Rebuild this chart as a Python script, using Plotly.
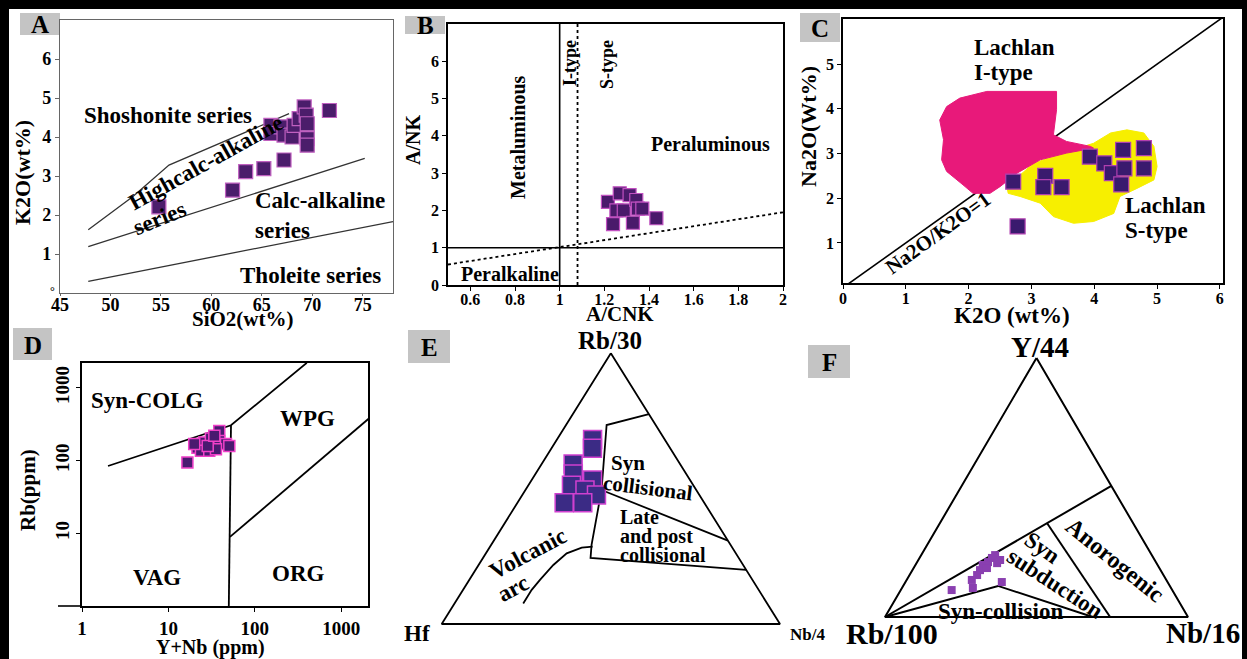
import plotly.graph_objects as go

W, H = 1247, 659
SERIF = "Liberation Serif"

# ---------------- DATA ----------------
# Panel A: SiO2 vs K2O
a_sio2 = [54.8, 62.1, 63.4, 65.2, 67.2, 65.9, 65.9, 66.9, 67.2, 68.0, 68.2, 68.7, 69.2, 69.4, 69.5, 69.5, 69.5, 71.7]
a_k2o = [2.21, 2.64, 3.11, 3.19, 3.41, 4.30, 4.09, 4.26, 4.05, 4.00, 4.30, 4.47, 4.77, 4.56, 4.34, 3.96, 3.79, 4.68]
a_sho_x = [47.8, 52.2, 55.8, 67.7]
a_sho_y = [1.62, 2.47, 3.28, 4.60]
a_hk_x = [47.8, 75.2]
a_hk_y = [1.19, 3.45]
a_th_x = [47.8, 78.0]
a_th_y = [0.30, 1.83]

# Panel B: A/CNK vs A/NK
b_acnk = [1.216, 1.269, 1.313, 1.254, 1.287, 1.343, 1.35, 1.37, 1.239, 1.328, 1.433]
b_ank = [2.23, 2.46, 2.41, 2.0, 2.0, 2.28, 2.05, 2.05, 1.63, 1.67, 1.79]
b_it_x = [1.08, 1.08]
b_it_y = [0, 7]
b_meta_x = [1.0, 1.0]
b_meta_y = [0, 7]
b_h_x = [0.5, 2.0]
b_h_y = [1.0, 1.0]
b_sl_x = [0.5, 2.0]
b_sl_y = [0.55, 1.95]

# Panel C: K2O vs Na2O
c_k2o = [2.71, 3.22, 3.19, 3.48, 3.93, 4.16, 4.28, 4.46, 4.79, 4.48, 4.79, 4.43, 2.78]
c_na2o = [2.37, 2.50, 2.25, 2.25, 2.93, 2.78, 2.56, 3.08, 3.12, 2.67, 2.67, 2.31, 1.37]
c_i_x = [1.54, 1.65, 1.86, 2.29, 3.40, 3.40, 3.35, 3.56, 3.94, 3.99, 3.56, 3.14, 2.77, 2.50, 2.34, 2.07, 1.91, 1.65, 1.57, 1.60, 1.54]
c_i_y = [3.75, 4.05, 4.24, 4.39, 4.39, 3.98, 3.42, 3.27, 3.16, 3.12, 3.01, 2.86, 2.56, 2.26, 2.11, 2.11, 2.30, 2.60, 2.86, 3.31, 3.75]
c_s_x = [2.61, 3.03, 3.56, 3.99, 4.26, 4.52, 4.79, 4.95, 5.00, 4.95, 4.68, 4.41, 4.31, 3.99, 3.67, 3.35, 3.14, 2.82, 2.63, 2.61]
c_s_y = [2.26, 2.78, 3.04, 3.23, 3.46, 3.53, 3.46, 3.16, 2.71, 2.41, 2.22, 2.04, 1.66, 1.48, 1.44, 1.59, 1.89, 2.04, 2.11, 2.26]
c_ratio_x = [0, 6.05]
c_ratio_y = [0, 6.05]

# Panel D: Y+Nb vs Rb (log-log)
d_ynb = [16.6, 21.7, 26, 31, 38.8, 38.8, 46.4, 50.7, 23.8, 29.7, 35.5, 19.9, 28.5, 34]
d_rb = [94, 150, 177, 200, 255, 186, 168, 158, 136, 136, 143, 168, 158, 218]
d_l1_x = [2, 53, 400]
d_l1_y = [84, 305, 2200]
d_l2_x = [53, 51.6, 50]
d_l2_y = [305, 8.9, 1]
d_l3_x = [51.6, 2150]
d_l3_y = [8.9, 389]

# Panel E: ternary Rb/30 (top) - Hf (left) - Nb/4 (right), percent
e_rb = [68.2, 64.9, 59.1, 55.4, 53.2, 51.3, 49.5, 47.7, 44.8, 44.8]
e_hf = [21.3, 23.0, 31.6, 33.4, 28.8, 36.0, 32.9, 30.4, 41.4, 35.9]
e_nb = [10.5, 12.1, 9.3, 11.2, 18.0, 12.7, 17.6, 21.9, 13.8, 19.3]
e_frame_rb = [100, 0, 0, 100]
e_frame_hf = [0, 100, 0, 0]
e_frame_nb = [0, 0, 100, 0]
e_b1_rb = [77.5, 73.5, 49.5, 29.2, 24.4, 20.0]
e_b1_hf = [0.0, 14.5, 28.0, 41.1, 43.8, 0.0]
e_b1_nb = [22.5, 12.0, 22.5, 29.7, 31.8, 80.0]
e_b2_rb = [49.5, 30.8]
e_b2_hf = [28.0, 0.0]
e_b2_nb = [22.5, 69.2]
e_arc_rb = [28.6, 28.2, 26.1, 21.8, 16.3, 12.6, 7.6]
e_arc_hf = [41.1, 44.5, 50.0, 56.1, 62.8, 67.1, 72.1]
e_arc_nb = [30.3, 27.3, 23.9, 22.1, 20.9, 20.3, 20.3]

# Panel F: ternary Y/44 (top) - Rb/100 (left) - Nb/16 (right), percent
f_y = [10.4, 14.3, 11.2, 18.1, 20.1, 21.2, 22.8, 23.9, 20.8, 22.0, 13.5, 18.9, 16.2]
f_rb = [72.8, 64.2, 65.4, 59.6, 57.7, 55.4, 53.3, 51.7, 52.6, 51.0, 54.7, 56.9, 61.5]
f_nb = [16.8, 21.5, 23.4, 22.3, 22.2, 23.4, 23.9, 24.4, 26.6, 27.0, 31.8, 24.2, 22.3]
f_frame_y = [100, 0, 0, 100]
f_frame_rb = [0, 100, 0, 0]
f_frame_nb = [0, 0, 100, 0]
f_up_y = [0, 50.6]
f_up_rb = [100, 0]
f_up_nb = [0, 49.4]
f_mid_y = [36.3, 0]
f_mid_rb = [28.4, 25.7]
f_mid_nb = [35.3, 74.3]
f_low_y = [0, 12.0, 0]
f_low_rb = [100, 56.7, 31.4]
f_low_nb = [0, 31.3, 68.6]


# ---------------- helpers ----------------
def tern(top, left, right):
    xs, ys = [], []
    for t, l, r in zip(top, left, right):
        s = t + l + r
        xs.append(r / s + t / s / 2)
        ys.append(t / s)
    return xs, ys


def dom(v0, p0, v1, p1, r0, r1, axis):
    s = (p1 - p0) / (v1 - v0)
    a = p0 + (r0 - v0) * s
    b = p0 + (r1 - v0) * s
    if axis == "x":
        return sorted([a / W, b / W])
    return sorted([1 - a / H, 1 - b / H])


def PX(x):
    return x / W


def PY(y):
    return 1 - y / H


fig = go.Figure()


def line(x, y, xa, ya, color="black", width=1.6, dash="solid"):
    fig.add_trace(go.Scatter(x=x, y=y, xaxis=xa, yaxis=ya, mode="lines",
                             line=dict(color=color, width=width, dash=dash),
                             showlegend=False, hoverinfo="skip"))


def pts(x, y, xa, ya, size, fill, outline, ow=1.2):
    fig.add_trace(go.Scatter(x=x, y=y, xaxis=xa, yaxis=ya, mode="markers",
                             marker=dict(symbol="square", size=size, color=fill,
                                         line=dict(color=outline, width=ow)),
                             cliponaxis=False, showlegend=False))


# ---- Panel A
line(a_sho_x, a_sho_y, "x", "y", color="#333", width=1.3)
line(a_hk_x, a_hk_y, "x", "y", color="#333", width=1.3)
line(a_th_x, a_th_y, "x", "y", color="#333", width=1.3)
pts(a_sio2, a_k2o, "x", "y", 14, "#4b1d6b", "#c060c0")

# ---- Panel B
line(b_meta_x, b_meta_y, "x2", "y2", width=1.6)
line(b_it_x, b_it_y, "x2", "y2", width=1.8, dash="dot")
line(b_h_x, b_h_y, "x2", "y2", width=1.6)
line(b_sl_x, b_sl_y, "x2", "y2", width=1.8, dash="dot")
pts(b_acnk, b_ank, "x2", "y2", 13, "#4a1a6b", "#c050c0")

# ---- Panel C
line(c_ratio_x, c_ratio_y, "x3", "y3", width=1.6)
fig.add_trace(go.Scatter(x=c_s_x, y=c_s_y, xaxis="x3", yaxis="y3", mode="lines", fill="toself",
                         fillcolor="#f7ef00", line=dict(color="#f7ef00", width=1),
                         showlegend=False, hoverinfo="skip"))
fig.add_trace(go.Scatter(x=c_i_x, y=c_i_y, xaxis="x3", yaxis="y3", mode="lines", fill="toself",
                         fillcolor="#e8197a", line=dict(color="#e8197a", width=1),
                         showlegend=False, hoverinfo="skip"))
pts(c_k2o, c_na2o, "x3", "y3", 15, "#3a1a6e", "#b040b0")

# ---- Panel D
line(d_l1_x, d_l1_y, "x4", "y4", width=1.8)
line(d_l2_x, d_l2_y, "x4", "y4", width=1.8)
line(d_l3_x, d_l3_y, "x4", "y4", width=1.8)
pts(d_ynb, d_rb, "x4", "y4", 11, "#4a1a70", "#f040c8", ow=1.5)

# ---- Panel E
for tt, ll, rr in [(e_frame_rb, e_frame_hf, e_frame_nb), (e_b1_rb, e_b1_hf, e_b1_nb),
                   (e_b2_rb, e_b2_hf, e_b2_nb), (e_arc_rb, e_arc_hf, e_arc_nb)]:
    xx, yy = tern(tt, ll, rr)
    line(xx, yy, "x5", "y5", width=1.8)
ex, ey = tern(e_rb, e_hf, e_nb)
pts(ex, ey, "x5", "y5", 18, "#3b2b85", "#d040d0", ow=1.5)

# ---- Panel F
for tt, ll, rr in [(f_frame_y, f_frame_rb, f_frame_nb), (f_up_y, f_up_rb, f_up_nb),
                   (f_mid_y, f_mid_rb, f_mid_nb), (f_low_y, f_low_rb, f_low_nb)]:
    xx, yy = tern(tt, ll, rr)
    line(xx, yy, "x6", "y6", width=2)
fx, fy = tern(f_y, f_rb, f_nb)
pts(fx, fy, "x6", "y6", 8, "#8a3fb0", "#8a3fb0", ow=0)

# ---------------- axes ----------------
tf = lambda s: dict(family=SERIF, size=s, color="black", weight="bold")


def box_axis(domain, rng, color="black", lw=1.6, tickvals=None, ticktext=None, fsize=16,
             typ="linear", tickangle=None, anchor=None, standoff=0, ticklen=4):
    d = dict(domain=domain, range=rng, type=typ, showline=True, mirror=True, linecolor=color,
             linewidth=lw, ticks="outside", ticklen=ticklen, tickwidth=1.2, tickcolor=color,
             showgrid=False, zeroline=False, tickfont=tf(fsize), tickvals=tickvals,
             anchor=anchor, fixedrange=True, automargin=False, ticklabelstandoff=standoff)
    if ticktext is not None:
        d["ticktext"] = ticktext
    if tickangle is not None:
        d["tickangle"] = tickangle
    return d


def blank_axis(domain, rng, anchor):
    return dict(domain=domain, range=rng, visible=False, showgrid=False, zeroline=False,
                anchor=anchor, fixedrange=True, automargin=False)


layout = dict(
    width=W, height=H, margin=dict(l=0, r=0, t=0, b=0, autoexpand=False),
    paper_bgcolor="white", plot_bgcolor="rgba(0,0,0,0)", showlegend=False,
    xaxis=box_axis(dom(45, 60, 78, 393, 45, 78, "x"), [45, 78], color="#666", lw=1.3,
                   tickvals=[45, 50, 55, 60, 65, 70, 75], fsize=18, anchor="y", standoff=-7, ticklen=2),
    yaxis=box_axis(dom(0, 293, 7, 20, 0, 7, "y"), [0, 7], color="#666", lw=1.3,
                   tickvals=[1, 2, 3, 4, 5, 6], fsize=18, anchor="x"),
    xaxis2=box_axis(dom(0.5, 448, 2, 783, 0.5, 2, "x"), [0.5, 2],
                    tickvals=[0.6, 0.8, 1, 1.2, 1.4, 1.6, 1.8, 2],
                    ticktext=["0.6", "0.8", "1", "1.2", "1.4", "1.6", "1.8", "2"], anchor="y2", standoff=-5),
    yaxis2=box_axis(dom(0, 285, 7, 24, 0, 7, "y"), [0, 7], tickvals=[0, 1, 2, 3, 4, 5, 6], anchor="x2"),
    xaxis3=box_axis(dom(0, 843, 6.05, 1223, 0, 6.05, "x"), [0, 6.05],
                    tickvals=[0, 1, 2, 3, 4, 5, 6], anchor="y3", standoff=-4),
    yaxis3=box_axis(dom(0.104, 283, 6.01, 19, 0.104, 6.01, "y"), [0.104, 6.01],
                    tickvals=[1, 2, 3, 4, 5], anchor="x3"),
    xaxis4=box_axis(dom(0, 82, 3.31, 368, 0, 3.31, "x"), [0, 3.31], typ="log",
                    tickvals=[1, 10, 100, 1000], ticktext=["1", "10", "100", "1000"], fsize=19, anchor="y4"),
    yaxis4=box_axis(dom(0, 606, 3.34, 363, 0, 3.34, "y"), [0, 3.34], typ="log",
                    tickvals=[10, 100, 1000], ticktext=["10", "100", "1000"], fsize=19,
                    tickangle=-90, anchor="x4"),
    xaxis5=blank_axis(dom(0, 441.7, 1, 780, -0.06, 1.06, "x"), [-0.06, 1.06], "y5"),
    yaxis5=blank_axis(dom(0, 624, 1, 353.3, -0.06, 1.06, "y"), [-0.06, 1.06], "x5"),
    xaxis6=blank_axis(dom(0, 885, 1, 1188, -0.06, 1.06, "x"), [-0.06, 1.06], "y6"),
    yaxis6=blank_axis(dom(0, 617, 1, 358, -0.06, 1.06, "y"), [-0.06, 1.06], "x6"),
)

# ---------------- text ----------------
ann = []


def txt(s, x, y, size, angle=0, xanchor="center", color="black"):
    ann.append(dict(text=s, x=PX(x), y=PY(y), xref="paper", yref="paper", showarrow=False,
                    font=dict(family=SERIF, size=size, color=color, weight="bold"),
                    textangle=angle, xanchor=xanchor, yanchor="middle"))


# panel letters
shapes = []
for letter, (x0, y0, x1, y1) in {"A": (20, 13, 60, 35), "B": (405, 16, 445, 34), "C": (800, 13, 840, 42),
                                 "D": (13, 328, 52, 360), "E": (408, 330, 450, 363),
                                 "F": (808, 345, 850, 378)}.items():
    shapes.append(dict(type="rect", xref="paper", yref="paper", x0=PX(x0), x1=PX(x1), y0=PY(y1), y1=PY(y0),
                       fillcolor="#c4c4c4", line=dict(width=0), layer="below"))
    txt(letter, (x0 + x1) / 2, (y0 + y1) / 2 + 1, 25)

# A
txt("K2O(wt%)", 23, 173, 22, -90)
txt("SiO2(wt%)", 243, 319, 21)
txt("°", 52, 291, 12)
txt("Shoshonite series", 168, 115, 23)
txt("Highcalc-alkaline", 206, 163, 23, -29)
txt("series", 159, 218, 23, -22)
txt("Calc-alkaline", 320, 200, 23)
txt("series", 282, 230, 23)
txt("Tholeite series", 310, 275, 23)
# B
txt("A/NK", 413, 140, 20, -90)
txt("A/CNK", 620, 314, 21)
txt("Metaluminous", 518, 137, 20, -90)
txt("I-type", 570, 63, 18, -90)
txt("S-type", 607, 65, 18, -90)
txt("Peraluminous", 710, 144, 20)
txt("Peralkaline", 510, 274, 20)
# C
txt("Na2O(Wt%)", 808, 127, 22, -90)
txt("K2O (wt%)", 1012, 315, 23)
txt("Lachlan", 972, 47, 23, xanchor="left")
txt("I-type", 972, 72, 23, xanchor="left")
txt("Lachlan", 1123, 205, 23, xanchor="left")
txt("S-type", 1123, 230, 23, xanchor="left")
txt("Na2O/K2O=1", 938, 233, 21, -36)
# D
txt("Rb(ppm)", 28, 490, 21, -90)
txt("Y+Nb (ppm)", 210, 647, 20)
txt("Syn-COLG", 147, 400, 23)
txt("WPG", 307, 418, 23)
txt("VAG", 157, 577, 23)
txt("ORG", 298, 573, 23)
# E
txt("Rb/30", 610, 340, 25)
txt("Hf", 417, 633, 23)
txt("Nb/4", 807, 634, 17)
txt("Syn", 609, 463, 21, xanchor="left")
txt("collisional", 648, 488, 21, 7)
txt("Late", 618, 517, 20, xanchor="left")
txt("and post", 618, 536, 20, xanchor="left")
txt("collisional", 618, 555, 20, xanchor="left")
txt("Volcanic", 528, 553, 23, -28)
txt("arc", 513, 588, 23, -28)
# F
txt("Y/44", 1040, 347, 29)
txt("Rb/100", 892, 633, 30)
ann.append(dict(text="Nb/16", x=PX(1242), y=PY(633), xref="paper", yref="paper", showarrow=False,
                font=dict(family=SERIF, size=29, color="black", weight="bold"),
                xanchor="right", yanchor="middle"))
txt("Anorogenic", 1115, 560, 24, 39)
txt("Syn", 1042, 547, 23, 35)
txt("subduction", 1055, 583, 23, 33)
txt("Syn-collision", 1000, 611, 23)

# D extended axis stub
shapes.append(dict(type="line", xref="paper", yref="paper", x0=PX(58), x1=PX(82), y0=PY(606), y1=PY(606),
                   line=dict(color="black", width=1.6)))
# black frame of the figure
for (x0, y0, x1, y1) in [(0, 0, 1247, 9), (0, 0, 9, 659), (1242, 0, 1247, 659)]:
    shapes.append(dict(type="rect", xref="paper", yref="paper", x0=PX(x0), x1=PX(x1), y0=PY(y1), y1=PY(y0),
                       fillcolor="black", line=dict(width=0), layer="above"))

layout["annotations"] = ann
layout["shapes"] = shapes
fig.update_layout(**layout)
fig.write_html("out.html", config={"displayModeBar": False},
               post_script="document.body.style.margin='0';document.body.style.overflow='hidden';")
